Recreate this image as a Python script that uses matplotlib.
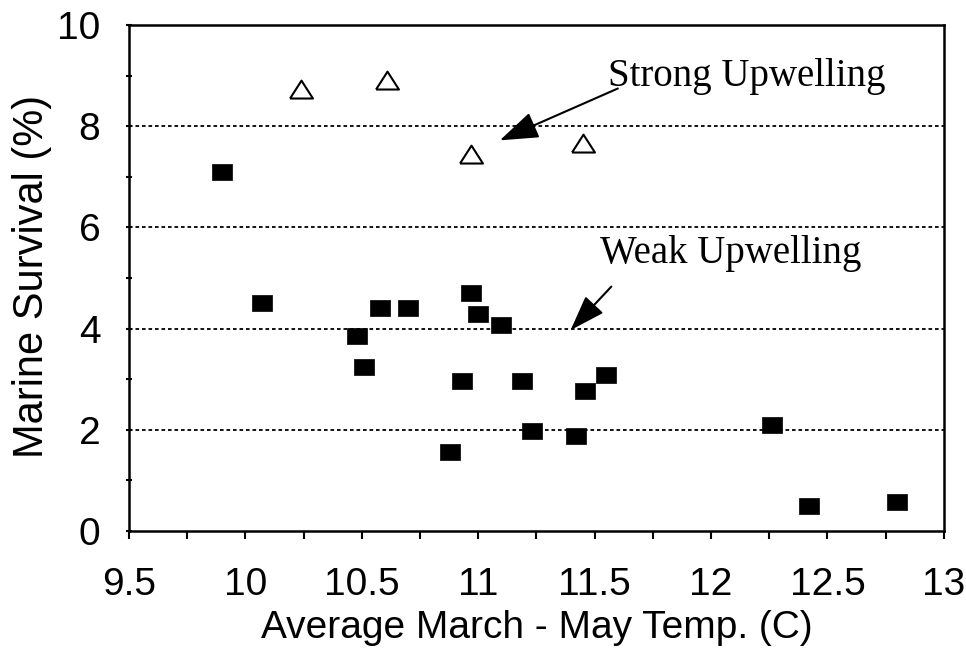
import matplotlib
matplotlib.use("Agg")
import matplotlib.pyplot as plt
from matplotlib.ticker import MultipleLocator

# Weak upwelling years (filled squares)
weak_x = [9.90, 10.07, 10.48, 10.51, 10.58, 10.70, 10.97, 11.00, 11.10, 10.93,
          10.88, 11.19, 11.23, 11.42, 11.46, 11.55, 12.26, 12.42, 12.80]
weak_y = [7.10, 4.50, 3.85, 3.25, 4.40, 4.40, 4.70, 4.28, 4.07, 2.97,
          1.57, 2.97, 1.98, 1.88, 2.77, 3.08, 2.10, 0.50, 0.58]

# Strong upwelling years (open triangles)
strong_x = [10.24, 10.61, 10.97, 11.45]
strong_y = [8.72, 8.89, 7.44, 7.65]

x_ticks = [9.5, 10, 10.5, 11, 11.5, 12, 12.5, 13]
x_tick_labels = ["9.5", "10", "10.5", "11", "11.5", "12", "12.5", "13"]
y_ticks = [0, 2, 4, 6, 8, 10]
y_tick_labels = ["0", "2", "4", "6", "8", "10"]
grid_levels = [2, 4, 6, 8]

sans = ["Liberation Sans", "DejaVu Sans"]
serif = ["Liberation Serif", "DejaVu Serif"]

fig = plt.figure(figsize=(9.66, 6.49), dpi=100)
ax = fig.add_axes([0.1335, 0.1818, 0.8435, 0.7797])

ax.set_xlim(9.5, 13)
ax.set_ylim(0, 10)

for g in grid_levels:
    ax.axhline(g, color="black", lw=1.3, linestyle=(0, (2, 1.6)), zorder=1)

rect_marker = [(-1, -0.8), (1, -0.8), (1, 0.8), (-1, 0.8), (-1, -0.8)]
tri_marker = [(-1, -0.7), (1, -0.7), (0, 0.86), (-1, -0.7)]

ax.plot(weak_x, weak_y, linestyle="none", marker=rect_marker, ms=15,
        mfc="black", mec="black", mew=0.5, zorder=3)
ax.plot(strong_x, strong_y, linestyle="none", marker=tri_marker, ms=16.5,
        mfc="white", mec="black", mew=1.5, zorder=3)

# Annotations
ax.text(11.558, 8.79, "Strong Upwelling", family=serif, fontsize=28,
        ha="left", va="baseline", zorder=4)
ax.text(11.522, 5.30, "Weak Upwelling", family=serif, fontsize=28,
        ha="left", va="baseline", zorder=4)

ax.annotate("", xy=(11.093, 7.72), xytext=(11.60, 8.745),
            arrowprops=dict(arrowstyle="-|>,head_length=1.2,head_width=0.42",
                            mutation_scale=20, lw=1.5, color="black",
                            shrinkA=0, shrinkB=0), zorder=4)
ax.annotate("", xy=(11.397, 3.97), xytext=(11.572, 4.83),
            arrowprops=dict(arrowstyle="-|>,head_length=1.1,head_width=0.38",
                            mutation_scale=20, lw=1.5, color="black",
                            shrinkA=0, shrinkB=0), zorder=4)

# Ticks
ax.set_xticks(x_ticks)
ax.set_xticklabels(x_tick_labels, family=sans, fontsize=28)
ax.xaxis.set_minor_locator(MultipleLocator(0.25))
ax.set_yticks(y_ticks)
ax.set_yticklabels(y_tick_labels, family=sans, fontsize=28)
ax.yaxis.set_minor_locator(MultipleLocator(1))

ax.tick_params(axis="x", which="both", direction="out", length=6, width=1.5,
               pad=20, top=False)
ax.tick_params(axis="y", which="both", direction="inout", length=5, width=1.5,
               pad=18, right=False)

for s in ax.spines.values():
    s.set_linewidth(1.8)
    s.set_color("black")

ax.set_xlabel("Average March - May Temp. (C)", family=sans, fontsize=28)
ax.xaxis.label.set_va("baseline")
ax.xaxis.set_label_coords(0.5, -0.2115)

ax.set_ylabel("Marine Survival (%)", family=sans, fontsize=30)
ax.yaxis.label.set_va("baseline")
ax.yaxis.label.set_rotation_mode("anchor")
ax.yaxis.set_label_coords(-0.1055, 0.504)

fig.savefig("out.png", dpi=100)
